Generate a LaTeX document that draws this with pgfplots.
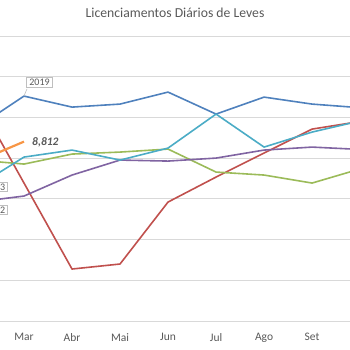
\documentclass[border=0pt]{standalone}
\usepackage{pgfplots}
\pgfplotsset{compat=1.18}
\usepackage{fontspec}
\setmainfont{Carlito}
\definecolor{sblue}{HTML}{4F81BD}
\definecolor{sred}{HTML}{C0504D}
\definecolor{sgreen}{HTML}{9BBB59}
\definecolor{spurple}{HTML}{8064A2}
\definecolor{steal}{HTML}{4BACC6}
\definecolor{sorange}{HTML}{F79646}
\definecolor{gridgray}{HTML}{D9D9D9}
\definecolor{textgray}{HTML}{595959}
\definecolor{boxgray}{HTML}{BFBFBF}
\begin{document}
\begin{tikzpicture}
\begin{axis}[
  name=ax,
  scale only axis, width=350pt, height=285pt,
  xmin=0.5, xmax=7.79, ymin=0, ymax=14000,
  axis line style={draw=none}, tick style={draw=none},
  scaled y ticks=false,
  ytick={0,2000,...,14000}, yticklabels={},
  ymajorgrids, grid style={color=gridgray, line width=0.9pt},
  xtick={0,1,2,3,4,5,6,7,8},
  xticklabels={Fev,Mar,Abr,Mai,Jun,Jul,Ago,Set,Out},
  xticklabel style={font=\fontsize{11.5}{12}\selectfont, text=textgray, yshift=-9pt},
  title={Licenciamentos Diários de Leves},
  title style={font=\fontsize{13.7}{15}\selectfont, text=textgray, at={(0.5,1)}, anchor=center, yshift=17pt},
  every axis plot/.append style={line width=1.6pt, mark=none, line join=round},
  clip=true,
]
\addplot[sblue] coordinates {(0,9476) (1,11048) (2,10507) (3,10655) (4,11244) (5,10164) (6,10998) (7,10655) (8,10477)};
\addplot[sred] coordinates {(0,11000) (1,6776) (2,2553) (3,2799) (4,5843) (5,7070) (6,8249) (7,9427) (8,9800)};
\addplot[sgreen] coordinates {(0,7911) (1,7709) (2,8200) (3,8298) (4,8445) (5,7316) (6,7169) (7,6776) (8,7470)};
\addplot[spurple] coordinates {(0,5843) (1,6138) (2,7169) (3,7905) (4,7856) (5,8003) (6,8396) (7,8543) (8,8427)};
\addplot[steal] coordinates {(0,6579) (1,8052) (2,8396) (3,7905) (4,8494) (5,10164) (6,8543) (7,9280) (8,9828)};
\addplot[sorange, line width=2.2pt] coordinates {(0,7807) (1,8812)};
\draw[boxgray, line width=0.6pt] (axis cs:1.062,11400) -- (axis cs:1.0,11057);
\node[draw=boxgray, fill=white, line width=0.6pt, text=textgray, font=\fontsize{10}{11}\selectfont, inner xsep=3pt, inner ysep=1.5pt, anchor=center] at (axis cs:1.323,11720) {2019};
\node[draw=boxgray, fill=white, line width=0.6pt, text=textgray, font=\fontsize{10}{11}\selectfont, inner xsep=2pt, inner ysep=1.5pt, anchor=east] at (axis cs:0.656,6585) {\hspace*{20pt}3};
\node[draw=boxgray, fill=white, line width=0.6pt, text=textgray, font=\fontsize{10}{11}\selectfont, inner xsep=2pt, inner ysep=1.5pt, anchor=east] at (axis cs:0.656,5455) {\hspace*{20pt}2};
\node[text=textgray, font=\fontsize{11.5}{12}\selectfont\bfseries\itshape, anchor=west, inner sep=0pt] at (axis cs:1.167,8796) {8,812};
\end{axis}
\pgfresetboundingbox
\useasboundingbox ([yshift=-29pt]ax.south west) rectangle ([yshift=36pt]ax.north east);
\end{tikzpicture}
\end{document}
